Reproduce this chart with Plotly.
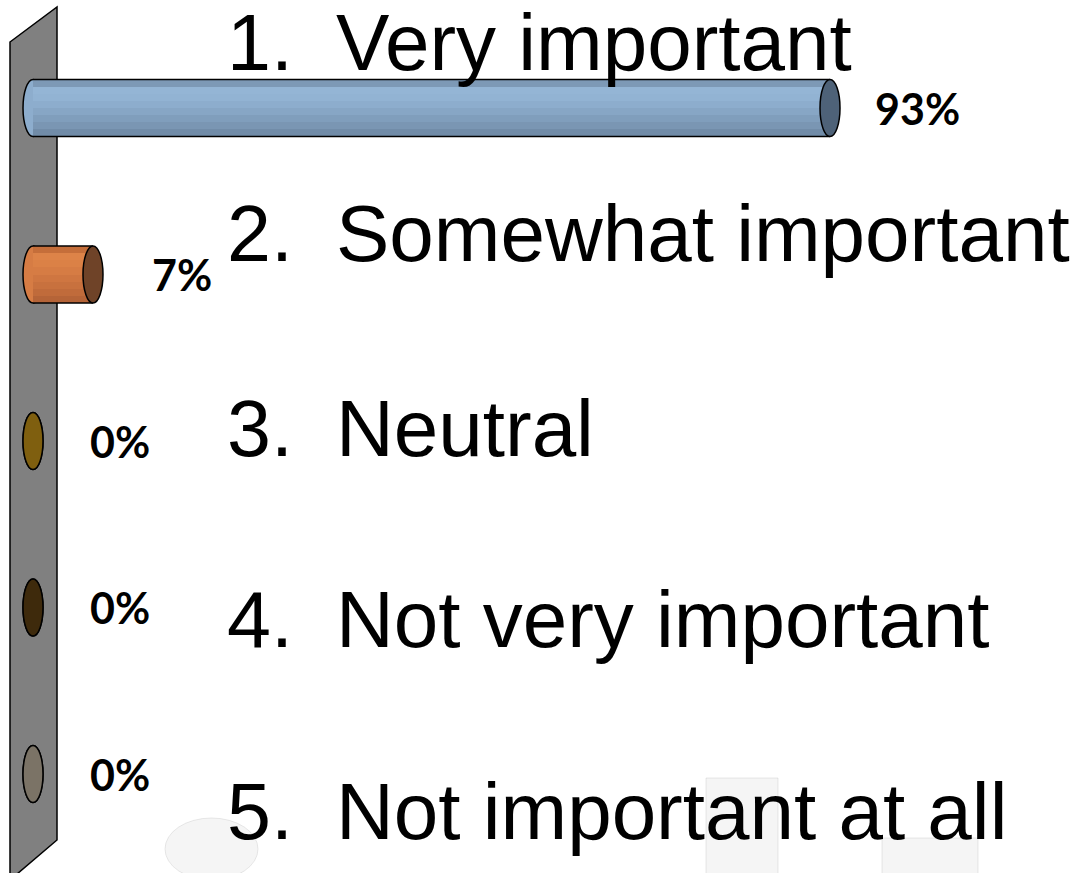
import plotly.graph_objects as go

# ---- data ----
numbers = ["1.", "2.", "3.", "4.", "5."]
categories = ["Very important", "Somewhat important", "Neutral",
              "Not very important", "Not important at all"]
percents = [93, 7, 0, 0, 0]
value_labels = [f"{p}%" for p in percents]

# ---- styling ----
W, H = 1076, 873
X0_PX, PX_PER_UNIT = 33.0, 8.57          # where 0% sits and the px length of 1%
ROW0_PX, ROW_STEP_PX = 108.0, 166.5      # centre of first row and row pitch
CYL_PX = 57.0                            # cylinder thickness in px
CAP_HALF_PX = 10.0                       # half width of the elliptical caps

cyl_h = CYL_PX / ROW_STEP_PX
cap_half = CAP_HALF_PX / PX_PER_UNIT

# shading bands for each cylinder (top -> bottom)
band_colors = [
    ["#7D99B6", "#94B5D5", "#92B3D3", "#8DADCD", "#87A6C5", "#809EBC", "#7A96B3", "#718CA8"],
    ["#C56E3A", "#DD8348", "#DB8146", "#D67C44", "#CF7641", "#C8713E", "#C06B3B", "#B56438"],
    ["#7F5F0F"] * 8,
    ["#3E2A0C"] * 8,
    ["#7B7366"] * 8,
]
cap_colors = ["#4E6278", "#6F4328", "#7F5F0F", "#3E2A0C", "#7B7366"]
label_shift = [43, 57, 55, 55, 55]
label_y_px = [42, 234, 428, 619, 811]

rows = list(range(len(categories)))
n_bands = len(band_colors[0])

fig = go.Figure()

# cylinder bodies, built from horizontal shading bands
for j in range(n_bands):
    fig.add_trace(go.Bar(
        x=percents, y=rows, orientation="h",
        width=cyl_h / n_bands,
        offset=-cyl_h / 2 + j * cyl_h / n_bands,
        marker=dict(color=[band_colors[i][j] for i in rows], line=dict(width=0)),
        hoverinfo="skip", showlegend=False,
    ))

shapes = []

def px_to_paper(px, py):
    return px / W, 1 - py / H

# grey back wall
wall_pts = [(10, 42), (57, 7), (57, 840), (10, 880)]
pts = [px_to_paper(*p) for p in wall_pts]
path = "M " + " L ".join(f"{x},{y}" for x, y in pts) + " Z"
shapes.append(dict(type="path", xref="paper", yref="paper", path=path,
                   fillcolor="#808080", line=dict(color="black", width=1.5),
                   layer="below"))

# faint background pictures along the bottom
for (x0, y0, x1, y1, kind) in [(165, 818, 258, 880, "circle"),
                               (706, 778, 778, 880, "rect"),
                               (882, 838, 978, 880, "rect")]:
    a0, b0 = px_to_paper(x0, y1)
    a1, b1 = px_to_paper(x1, y0)
    shapes.append(dict(type=kind, xref="paper", yref="paper",
                       x0=a0, x1=a1, y0=b0, y1=b1,
                       fillcolor="rgba(190,190,190,0.16)",
                       line=dict(color="rgba(170,170,170,0.25)", width=1),
                       layer="below"))

for i in rows:
    v = percents[i]
    top, bot = i - cyl_h / 2, i + cyl_h / 2
    # rounded base of the cylinder (sits under the body)
    shapes.append(dict(type="circle", xref="x", yref="y",
                       x0=-cap_half, x1=cap_half, y0=top, y1=bot,
                       fillcolor=band_colors[i][3],
                       line=dict(color="black", width=1.5), layer="below"))
    if v > 0:
        for yy in (top, bot):
            shapes.append(dict(type="line", xref="x", yref="y",
                               x0=0, x1=v, y0=yy, y1=yy,
                               line=dict(color="black", width=1.5), layer="above"))
    # end cap
    shapes.append(dict(type="circle", xref="x", yref="y",
                       x0=v - cap_half, x1=v + cap_half, y0=top, y1=bot,
                       fillcolor=cap_colors[i],
                       line=dict(color="black", width=1.5), layer="above"))

annotations = []
for i in rows:
    # value labels to the right of each cylinder
    annotations.append(dict(
        x=percents[i], y=i, xref="x", yref="y", text=value_labels[i],
        showarrow=False, xanchor="left", yanchor="middle",
        xshift=label_shift[i],
        font=dict(family="Lato", size=43, color="black", weight="bold"),
    ))
    # answer texts
    _, py = px_to_paper(0, label_y_px[i])
    annotations.append(dict(
        x=226 / W, y=py, xref="paper", yref="paper", text=numbers[i],
        showarrow=False, xanchor="left", yanchor="middle", borderpad=0,
        font=dict(family="Liberation Sans", size=79, color="black"),
    ))
    annotations.append(dict(
        x=335 / W, y=py, xref="paper", yref="paper", text=categories[i],
        showarrow=False, xanchor="left", yanchor="middle", borderpad=0,
        font=dict(family="Liberation Sans", size=80, color="black"),
    ))

fig.update_layout(
    width=W, height=H,
    margin=dict(l=0, r=0, t=0, b=0),
    paper_bgcolor="white", plot_bgcolor="white",
    barmode="overlay", bargap=0,
    shapes=shapes, annotations=annotations,
    xaxis=dict(range=[-X0_PX / PX_PER_UNIT, (W - X0_PX) / PX_PER_UNIT],
               visible=False, fixedrange=True),
    yaxis=dict(range=[(H - ROW0_PX) / ROW_STEP_PX, -ROW0_PX / ROW_STEP_PX],
               visible=False, fixedrange=True),
    showlegend=False,
)

fig.write_html("out.html")
